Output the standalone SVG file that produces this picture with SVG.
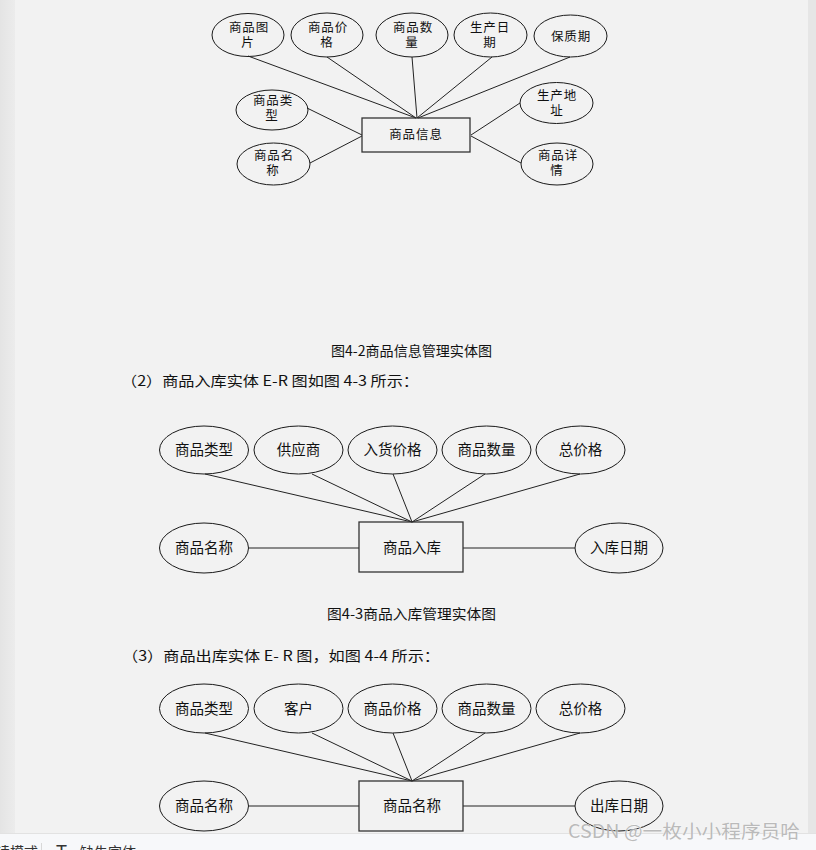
<svg xmlns="http://www.w3.org/2000/svg" width="816" height="850" viewBox="0 0 816 850">
<style>
.bg{fill:#f2f2f2}
.ent ellipse{fill:none;stroke:#1a1a1a;stroke-width:1}
.ent rect{fill:none;stroke:#333;stroke-width:1.3}
.t1{font-family:"Noto Sans CJK SC","Liberation Sans",sans-serif;font-size:12.5px;letter-spacing:0.9px;fill:#111;text-anchor:middle}
.t2{font-family:"Noto Sans CJK SC","Liberation Sans",sans-serif;font-size:14.5px;fill:#111;text-anchor:middle}
.cap{font-family:"Noto Sans CJK SC","Liberation Sans",sans-serif;font-size:14px;fill:#111}
.links line{stroke:#222;stroke-width:1}
</style>
<defs>
<linearGradient id="lg" x1="0" y1="0" x2="1" y2="0">
<stop offset="0" stop-color="#e4e4e4"/>
<stop offset="1" stop-color="#ececec"/>
</linearGradient>
</defs>
<rect class="bg" x="0" y="0" width="816" height="850"/>
<rect x="0" y="0" width="15" height="834" fill="url(#lg)"/>
<rect x="808" y="0" width="8" height="834" fill="#e6e6e6"/>

<!-- Diagram 1 connectors -->
<g id="links1" class="links">
<line x1="248" y1="56" x2="416" y2="118"/>
<line x1="327" y1="57" x2="416" y2="118"/>
<line x1="412" y1="57" x2="417" y2="118"/>
<line x1="492" y1="57" x2="417" y2="118"/>
<line x1="570" y1="57" x2="418" y2="118"/>
<line x1="307" y1="108" x2="362" y2="135"/>
<line x1="310" y1="163" x2="362" y2="136"/>
<line x1="520" y1="103" x2="471" y2="135"/>
<line x1="521" y1="163" x2="471" y2="136"/>
</g>
<g id="d1-picture" class="ent"><ellipse cx="248" cy="35" rx="36" ry="21.5"/><text class="t1"><tspan x="249" y="32">商品图</tspan><tspan x="248" dy="15">片</tspan></text></g>
<g id="d1-price" class="ent"><ellipse cx="327" cy="35" rx="36" ry="22"/><text class="t1"><tspan x="328" y="32">商品价</tspan><tspan x="327" dy="15">格</tspan></text></g>
<g id="d1-qty" class="ent"><ellipse cx="412" cy="35" rx="36" ry="22"/><text class="t1"><tspan x="413" y="32">商品数</tspan><tspan x="412" dy="15">量</tspan></text></g>
<g id="d1-date" class="ent"><ellipse cx="490.5" cy="35" rx="36.5" ry="22"/><text class="t1"><tspan x="490" y="32">生产日</tspan><tspan x="490" dy="15">期</tspan></text></g>
<g id="d1-shelf" class="ent"><ellipse cx="570.5" cy="36" rx="36.5" ry="21"/><text class="t1" x="571" y="41">保质期</text></g>
<g id="d1-type" class="ent"><ellipse cx="272" cy="110" rx="36" ry="20"/><text class="t1"><tspan x="273" y="105">商品类</tspan><tspan x="272" dy="15">型</tspan></text></g>
<g id="d1-name" class="ent"><ellipse cx="273.5" cy="164" rx="36.5" ry="21"/><text class="t1"><tspan x="274" y="160">商品名</tspan><tspan x="273" dy="15">称</tspan></text></g>
<g id="d1-addr" class="ent"><ellipse cx="556.5" cy="103" rx="36.5" ry="20.5"/><text class="t1"><tspan x="557" y="100">生产地</tspan><tspan x="557" dy="15">址</tspan></text></g>
<g id="d1-detail" class="ent"><ellipse cx="557" cy="164" rx="36" ry="21"/><text class="t1"><tspan x="558" y="160">商品详</tspan><tspan x="557" dy="15">情</tspan></text></g>
<g id="d1-info" class="ent"><rect x="362" y="118" width="108" height="34"/><text class="t1" x="416" y="139">商品信息</text></g>

<text class="cap" x="331" y="356" textLength="161" lengthAdjust="spacingAndGlyphs">图4-2商品信息管理实体图</text>
<text class="cap" x="121" y="386" font-size="15" textLength="298" lengthAdjust="spacingAndGlyphs">（2）商品入库实体 E-R 图如图 4-3 所示：</text>

<!-- Diagram 2 connectors -->
<g id="links2" class="links">
<line x1="205" y1="474" x2="412" y2="522"/>
<line x1="312" y1="474" x2="412" y2="522"/>
<line x1="393" y1="474" x2="412" y2="522"/>
<line x1="485" y1="474" x2="412" y2="522"/>
<line x1="580" y1="474" x2="412" y2="522"/>
<line x1="249" y1="548" x2="359" y2="548"/>
<line x1="463" y1="548" x2="575" y2="548"/>
</g>
<g id="d2-type" class="ent"><ellipse cx="204" cy="450" rx="44.5" ry="24"/><text class="t2" x="204" y="455">商品类型</text></g>
<g id="d2-supplier" class="ent"><ellipse cx="298.5" cy="450" rx="44.5" ry="24"/><text class="t2" x="298.5" y="455">供应商</text></g>
<g id="d2-inprice" class="ent"><ellipse cx="392.5" cy="450" rx="44.5" ry="24"/><text class="t2" x="392.5" y="455">入货价格</text></g>
<g id="d2-qty" class="ent"><ellipse cx="486.5" cy="450" rx="44.5" ry="24"/><text class="t2" x="486.5" y="455">商品数量</text></g>
<g id="d2-total" class="ent"><ellipse cx="580.5" cy="450" rx="44.5" ry="24"/><text class="t2" x="580.5" y="455">总价格</text></g>
<g id="d2-name" class="ent"><ellipse cx="204" cy="548" rx="44.5" ry="25"/><text class="t2" x="204" y="553">商品名称</text></g>
<g id="d2-indate" class="ent"><ellipse cx="619" cy="548" rx="44" ry="25"/><text class="t2" x="619" y="553">入库日期</text></g>
<g id="d2-entity" class="ent"><rect x="359" y="522" width="104" height="50"/><text class="t2" x="412" y="553">商品入库</text></g>

<text class="cap" x="327" y="619" textLength="169" lengthAdjust="spacingAndGlyphs">图4-3商品入库管理实体图</text>
<text class="cap" x="122" y="661" font-size="15" textLength="318" lengthAdjust="spacingAndGlyphs">（3）商品出库实体 E- R 图，如图 4-4 所示：</text>

<!-- Diagram 3 connectors -->
<g id="links3" class="links">
<line x1="205" y1="733" x2="412" y2="781"/>
<line x1="312" y1="733" x2="412" y2="781"/>
<line x1="393" y1="733" x2="412" y2="781"/>
<line x1="485" y1="733" x2="412" y2="781"/>
<line x1="580" y1="733" x2="412" y2="781"/>
<line x1="249" y1="806" x2="359" y2="806"/>
<line x1="463" y1="806" x2="575" y2="806"/>
</g>
<g id="d3-type" class="ent"><ellipse cx="204" cy="708.5" rx="44.5" ry="24.5"/><text class="t2" x="204" y="714">商品类型</text></g>
<g id="d3-customer" class="ent"><ellipse cx="298.5" cy="708.5" rx="44.5" ry="24.5"/><text class="t2" x="298.5" y="714">客户</text></g>
<g id="d3-price" class="ent"><ellipse cx="392.5" cy="708.5" rx="44.5" ry="24.5"/><text class="t2" x="392.5" y="714">商品价格</text></g>
<g id="d3-qty" class="ent"><ellipse cx="486.5" cy="708.5" rx="44.5" ry="24.5"/><text class="t2" x="486.5" y="714">商品数量</text></g>
<g id="d3-total" class="ent"><ellipse cx="580.5" cy="708.5" rx="44.5" ry="24.5"/><text class="t2" x="580.5" y="714">总价格</text></g>
<g id="d3-name" class="ent"><ellipse cx="204" cy="806" rx="44.5" ry="25"/><text class="t2" x="204" y="811">商品名称</text></g>
<g id="d3-outdate" class="ent"><ellipse cx="619" cy="806" rx="44" ry="25"/><text class="t2" x="619" y="811">出库日期</text></g>
<g id="d3-entity" class="ent"><rect x="359" y="781" width="104" height="50"/><text class="t2" x="412" y="811">商品名称</text></g>

<!-- bottom toolbar -->
<rect x="0" y="834" width="816" height="16" fill="#f7f8fa"/>
<line x1="0" y1="833.5" x2="816" y2="833.5" stroke="#e2e2e2" stroke-width="1"/>
<text x="38" y="857" font-family="Noto Sans CJK SC, sans-serif" font-size="14" fill="#333" text-anchor="end">读模式</text>
<line x1="41.5" y1="843" x2="41.5" y2="850" stroke="#d8d8d8" stroke-width="1"/>
<text x="56" y="858" font-family="Liberation Sans, sans-serif" font-size="18" fill="#333">T</text>
<text x="80" y="857" font-family="Noto Sans CJK SC, sans-serif" font-size="14" fill="#333">缺失字体</text>

<!-- watermark -->
<text x="568" y="838" font-family="Noto Sans CJK SC, sans-serif" font-size="18.5" fill="#b5b5b5" stroke="#ffffff" stroke-width="0.6" paint-order="stroke" opacity="0.9" textLength="232" lengthAdjust="spacingAndGlyphs">CSDN @一枚小小程序员哈</text>
</svg>
